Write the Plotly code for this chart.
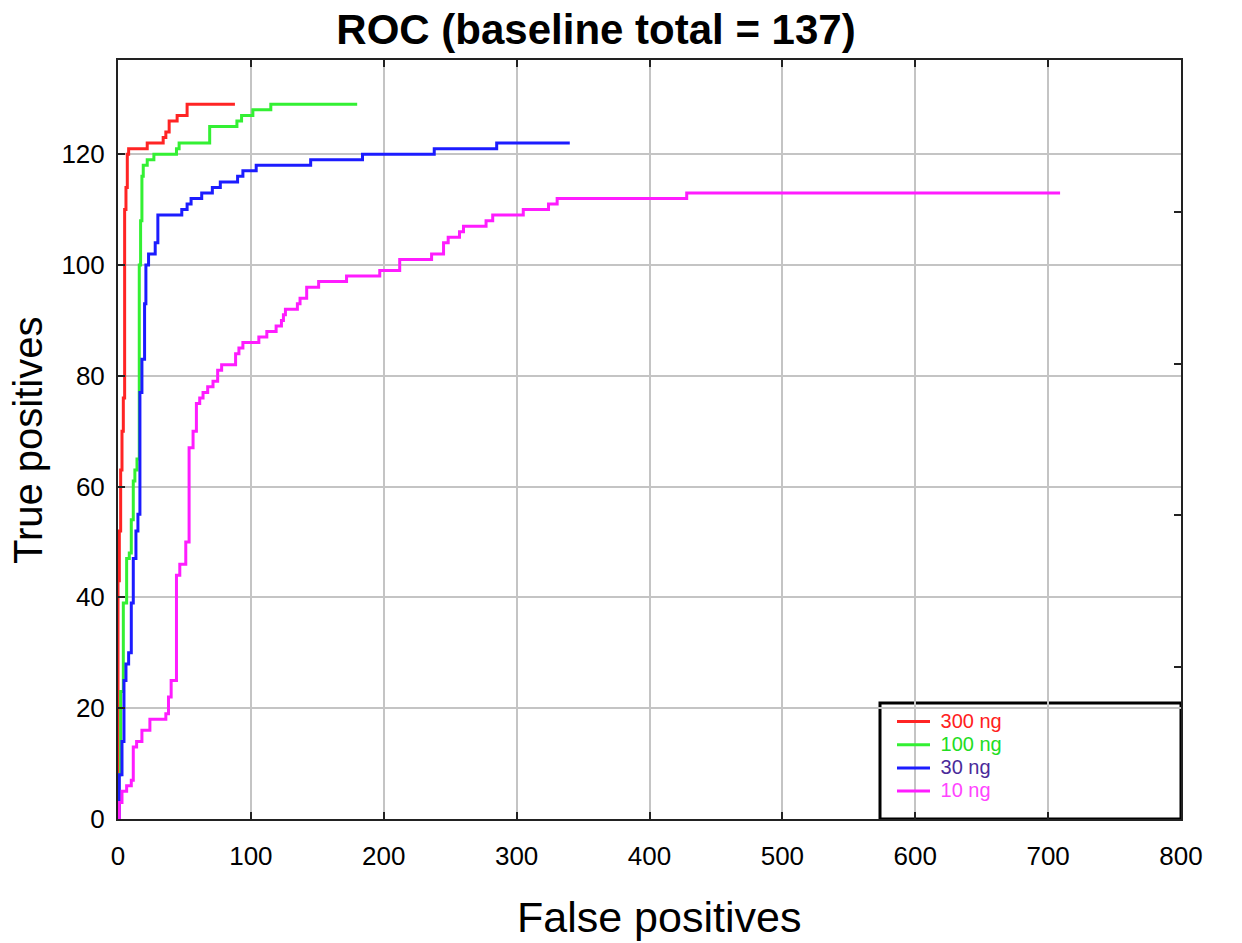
import plotly.graph_objects as go

# ---- data (false positives, true positives) ----
fp_300 = [0, 0, 1, 2, 3, 4, 5, 6, 7, 8, 22, 34, 36, 38.5, 44.5, 52, 88]
tp_300 = [0, 43, 52, 63, 70, 76, 110, 114, 120, 121, 122, 123, 124, 126, 127, 129, 129]

fp_100 = [0, 0, 2, 4, 6.5, 8.5, 10, 11.5, 12.7, 14.3, 16, 17, 18, 19, 22, 27, 44, 46, 69, 89.5, 93, 101.5, 115, 180]
tp_100 = [0, 8, 23, 39, 47, 48, 54, 61, 63, 65, 100, 108, 116, 118, 119, 120, 121, 122, 125, 126, 127, 128, 129, 129]

fp_30 = [0, 1, 3, 4.5, 6, 8, 10, 11.5, 13.5, 15, 16.5, 18, 20, 21, 23, 28, 30, 48, 52, 55, 63, 71, 77, 90, 94, 104, 145, 184, 238, 285, 340]
tp_30 = [0, 8, 14, 25, 28, 30, 39, 47, 52, 55, 77, 83, 93, 100, 102, 104, 109, 110, 111, 112, 113, 114, 115, 116, 117, 118, 119, 120, 121, 122, 122]

fp_10 = [0, 1, 3, 6.5, 10, 11.5, 14, 18, 24, 36, 38, 40, 44, 46.5, 51, 53.5, 56.5, 59, 61.5, 64,
         67.5, 71.5, 75, 78, 88.5, 91, 94, 106, 112, 119, 123, 124.5, 126, 135, 137, 142, 151, 172, 197, 212,
         236, 245, 248.5, 257, 260, 277, 282, 305, 324, 330.5, 428, 709]
tp_10 = [0, 3, 5, 6, 7, 13, 14, 16, 18, 19, 22, 25, 44, 46, 50, 67, 70, 75, 76, 77,
         78, 79, 81, 82, 84, 85, 86, 87, 88, 89, 90, 91, 92, 93, 94, 96, 97, 98, 99, 101,
         102, 104, 105, 106, 107, 108, 109, 110, 111, 112, 113, 113]

series_names = ["300 ng", "100 ng", "30 ng", "10 ng"]
line_colors = ["#ff2424", "#33f033", "#1c1cff", "#ff1cff"]
label_colors = ["#ff2020", "#22dd22", "#4a2a9a", "#ff44ff"]

baseline_total = 137
x_ticks = [0, 100, 200, 300, 400, 500, 600, 700, 800]
y_ticks = [0, 20, 40, 60, 80, 100, 120]
frac_ticks = [0.2, 0.4, 0.6, 0.8]

FONT = "Liberation Sans, Arial, sans-serif"
L, R, T, B = 118, 1181, 60, 819
PW, PH = R - L, B - T

fig = go.Figure()
for fp, tp, nm, lc, tc in zip([fp_300, fp_100, fp_30, fp_10],
                              [tp_300, tp_100, tp_30, tp_10],
                              series_names, line_colors, label_colors):
    fig.add_trace(go.Scatter(
        x=fp, y=tp, mode="lines", line=dict(color=lc, width=3, shape="hv"),
        name=f'<span style="font-size:20px;color:{tc}">&nbsp;{nm}</span>'))

# invisible trace to activate the right-hand fraction axis
fig.add_trace(go.Scatter(x=[], y=[], yaxis="y2", showlegend=False, hoverinfo="skip"))

fig.update_layout(
    width=1242, height=943,
    margin=dict(l=L, r=1242 - R, t=T, b=943 - B),
    paper_bgcolor="white", plot_bgcolor="white",
    font=dict(family=FONT, color="black"),
    title=dict(text="<b>ROC (baseline total = 137)</b>", font=dict(size=42, family=FONT, color="black"),
               x=596 / 1242, xanchor="center", xref="container",
               y=1 - 29 / 943, yanchor="middle", yref="container"),
    xaxis=dict(range=[0, 800], tickvals=x_ticks, ticktext=[str(v) for v in x_ticks],
               showgrid=True, gridcolor="#c4c4c4", gridwidth=1.5,
               showline=True, linecolor="#222222", linewidth=2, mirror="ticks",
               ticks="inside", ticklen=7, tickwidth=2, tickcolor="#222222",
               tickfont=dict(size=26, family=FONT), ticklabelstandoff=13,
               zeroline=False),
    yaxis=dict(range=[0, baseline_total], tickvals=y_ticks, ticktext=[str(v) for v in y_ticks],
               showgrid=True, gridcolor="#c4c4c4", gridwidth=1.5,
               showline=True, linecolor="#222222", linewidth=2, mirror=False,
               ticks="inside", ticklen=7, tickwidth=2, tickcolor="#222222",
               tickfont=dict(size=26, family=FONT), ticklabelstandoff=6,
               zeroline=False),
    yaxis2=dict(range=[0, 1], overlaying="y", side="right", tickvals=frac_ticks,
                showticklabels=False, showgrid=False, zeroline=False,
                showline=True, linecolor="#222222", linewidth=2,
                ticks="inside", ticklen=7, tickwidth=2, tickcolor="#222222"),
    legend=dict(x=(892 - L) / PW, xanchor="left", y=(B - 705) / PH, yanchor="top",
                bgcolor="rgba(0,0,0,0)", borderwidth=0, font=dict(size=15.5, family=FONT),
                itemwidth=33),
    shapes=[dict(type="rect", xref="paper", yref="paper",
                 x0=(880 - L) / PW, x1=1.0, y0=0.0, y1=(B - 703) / PH,
                 line=dict(color="black", width=3), fillcolor="white", layer="between")],
    annotations=[
        dict(text="False positives", xref="paper", yref="paper",
             x=(659 - L) / PW, y=(B - 917) / PH, xanchor="center", yanchor="middle",
             showarrow=False, font=dict(size=43, family=FONT, color="black")),
        dict(text="True positives", xref="paper", yref="paper", textangle=-90,
             x=(28 - L) / PW, y=(B - 440) / PH, xanchor="center", yanchor="middle",
             showarrow=False, font=dict(size=40, family=FONT, color="black")),
    ],
    showlegend=True,
)

fig.write_html("out.html")
